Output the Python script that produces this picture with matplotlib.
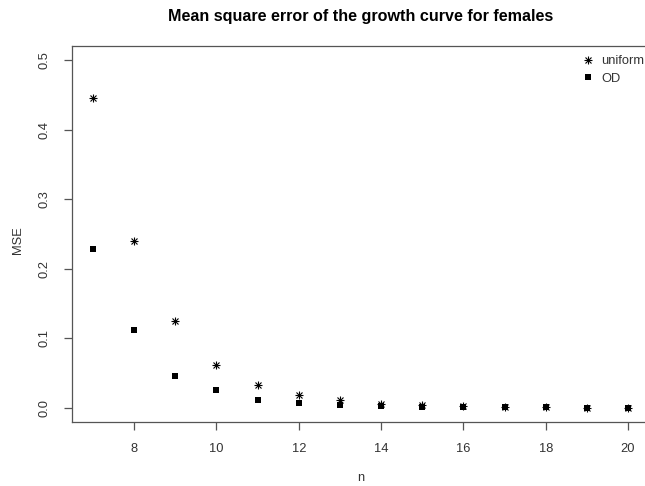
import matplotlib
matplotlib.use("Agg")
import matplotlib.pyplot as plt
from matplotlib.lines import Line2D

n = [7, 8, 9, 10, 11, 12, 13, 14, 15, 16, 17, 18, 19, 20]
mse_uniform = [0.445, 0.240, 0.125, 0.062, 0.033, 0.018, 0.011, 0.006, 0.004, 0.0025, 0.0012, 0.0018, 0.0006, 0.0005]
mse_od = [0.228, 0.112, 0.046, 0.026, 0.012, 0.007, 0.004, 0.003, 0.002, 0.002, 0.0012, 0.0016, 0.0006, 0.0005]
xticks = [8, 10, 12, 14, 16, 18, 20]
yticks = [0.0, 0.1, 0.2, 0.3, 0.4, 0.5]

plt.rcParams['font.family'] = ['Liberation Sans', 'DejaVu Sans']

W, H = 645, 486
fig = plt.figure(figsize=(W / 100, H / 100), dpi=100)
ax = fig.add_axes([71.6 / W, 1 - 421.9 / H, (649.4 - 71.6) / W, (421.9 - 46) / H])

ms_ast = 6.3
ms_sq = 4.4
ax.plot(n, mse_uniform, linestyle='none', marker='+', color='black', ms=ms_ast, mew=0.8)
ax.plot(n, mse_uniform, linestyle='none', marker='x', color='black', ms=ms_ast * 0.72, mew=0.8)
ax.plot(n, mse_od, linestyle='none', marker='s', color='black', ms=ms_sq, mew=0)

ax.set_xlim(6.48, 20.52)
ax.set_ylim(-0.02, 0.52)
ax.set_xticks(xticks)
ax.set_xticklabels([str(v) for v in xticks])
ax.set_yticks(yticks)
ax.set_yticklabels([f"{v:.1f}" for v in yticks], rotation=90, va='center')

for s in ax.spines.values():
    s.set_color('#555555')
    s.set_linewidth(0.9)
ax.tick_params(axis='both', direction='out', length=6, width=0.9, color='#555555',
               labelsize=9.3, labelcolor='#333333')
ax.tick_params(axis='x', pad=9)
ax.tick_params(axis='y', pad=9)

fig.text(360.5 / W, 1 - 16 / H, "Mean square error of the growth curve for females",
         ha='center', va='center', fontsize=11.6, fontweight='bold', color='black')
fig.text(360.5 / W, 1 - 478 / H, "n", ha='center', va='center', fontsize=9.3, color='#333333')
fig.text(18 / W, 1 - 240 / H, "MSE", ha='center', va='center', fontsize=9.3,
         rotation=90, color='#333333')

h1 = (Line2D([], [], linestyle='none', marker='+', color='black', ms=ms_ast, mew=0.8),
      Line2D([], [], linestyle='none', marker='x', color='black', ms=ms_ast * 0.72, mew=0.8))
h2 = Line2D([], [], linestyle='none', marker='s', color='black', ms=ms_sq, mew=0)
leg = ax.legend([h1, h2], ["uniform", "OD"], loc='upper left',
                bbox_to_anchor=(582 / W, 1 - 55 / H), bbox_transform=fig.transFigure,
                frameon=False, fontsize=9.3, handlelength=1.0, handletextpad=0.5,
                labelspacing=0.45, borderpad=0, borderaxespad=0)
for t in leg.get_texts():
    t.set_color('#333333')

fig.savefig("out.png", dpi=100)
